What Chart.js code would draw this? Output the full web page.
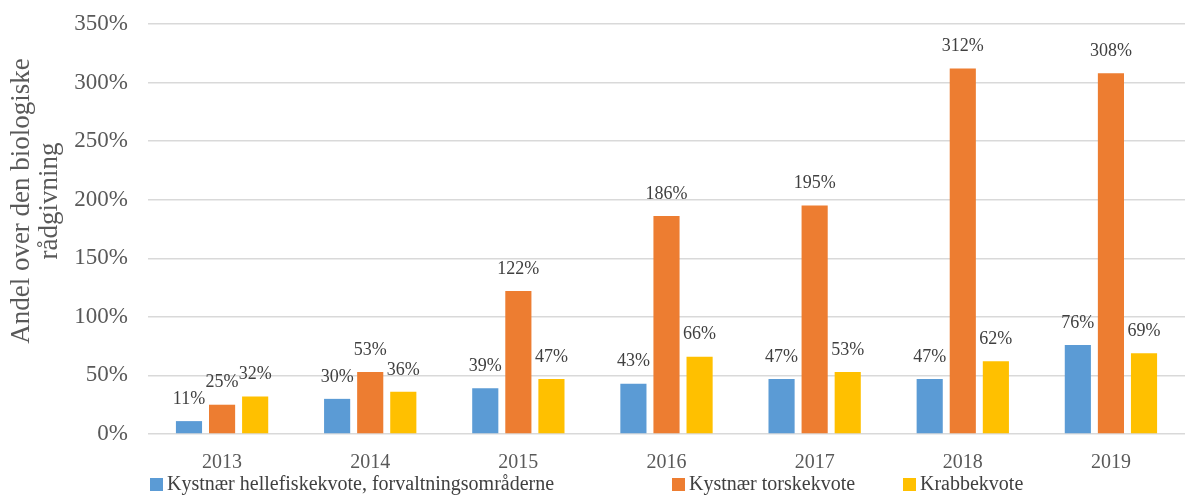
<!DOCTYPE html>
<html>
<head>
<meta charset="utf-8">
<script src="https://cdn.jsdelivr.net/npm/chart.js@4"></script>
<style>
  html, body { margin: 0; padding: 0; overflow: hidden; background: #fff; }
</style>
</head>
<body>
<canvas id="graf" width="1201" height="495"></canvas>
<script>
const aar = ['2013', '2014', '2015', '2016', '2017', '2018', '2019'];
const helle = [11, 30, 39, 43, 47, 47, 76];
const torsk = [25, 53, 122, 186, 195, 312, 308];
const krabbe = [32, 36, 47, 66, 53, 62, 69];
const navne = ['Kystnær hellefiskekvote, forvaltningsområderne', 'Kystnær torskekvote', 'Krabbekvote'];
const farver = ['#5b9bd5', '#ed7d31', '#ffc000'];
const akseTitel = ['Andel over den biologiske', 'rådgivning'];

const serif = 'Liberation Serif, Times New Roman, serif';

// etiketter over søjlerne
const etiketter = {
  id: 'etiketter',
  afterDatasetsDraw(chart) {
    const ctx = chart.ctx;
    ctx.save();
    ctx.font = '18px ' + serif;
    ctx.fillStyle = '#404040';
    ctx.textAlign = 'center';
    ctx.textBaseline = 'middle';
    chart.data.datasets.forEach((ds, i) => {
      chart.getDatasetMeta(i).data.forEach((bar, j) => {
        ctx.fillText(ds.data[j] + '%', bar.x, bar.y - 22);
      });
    });
    ctx.restore();
  }
};

// aksetitel og forklaring tegnes selv
const pynt = {
  id: 'pynt',
  afterDraw(chart) {
    const ctx = chart.ctx;
    const area = chart.chartArea;
    ctx.save();
    // y-aksens titel
    ctx.font = '27px ' + serif;
    ctx.fillStyle = '#595959';
    ctx.textAlign = 'center';
    ctx.textBaseline = 'middle';
    const midt = (area.top + area.bottom) / 2 - 28;
    akseTitel.forEach((linje, i) => {
      ctx.save();
      ctx.translate(22 + i * 28, midt);
      ctx.rotate(-Math.PI / 2);
      ctx.fillText(linje, 0, 0);
      ctx.restore();
    });
    // forklaring
    ctx.font = '20px ' + serif;
    ctx.textAlign = 'left';
    const startX = [150, 672, 903];
    const y = 484;
    navne.forEach((navn, i) => {
      ctx.fillStyle = farver[i];
      ctx.fillRect(startX[i], y - 6, 13, 13);
      ctx.fillStyle = '#404040';
      ctx.fillText(navn, startX[i] + 17, y + 1);
    });
    ctx.restore();
  }
};

new Chart(document.getElementById('graf'), {
  type: 'bar',
  data: {
    labels: aar,
    datasets: navne.map((navn, i) => ({
      label: navn,
      data: [helle, torsk, krabbe][i],
      backgroundColor: farver[i]
    }))
  },
  options: {
    responsive: false,
    animation: false,
    categoryPercentage: 0.67,
    barPercentage: 0.79,
    layout: { padding: { top: 24, right: 16, left: 0, bottom: 11 } },
    plugins: {
      legend: { display: false },
      tooltip: { enabled: false }
    },
    scales: {
      x: {
        grid: { display: false },
        border: { display: false },
        ticks: { font: { family: serif, size: 20 }, color: '#595959', padding: 9 }
      },
      y: {
        min: 0,
        max: 350,
        border: { display: false },
        grid: { color: '#d9d9d9', lineWidth: 1.5, drawTicks: false },
        afterFit: scale => {
          scale.width = 148;
          scale.paddingTop = 0;
          scale.paddingBottom = 0;
        },
        ticks: {
          stepSize: 50,
          padding: 20,
          font: { family: serif, size: 23 },
          color: '#595959',
          callback: v => v + '%'
        }
      }
    }
  },
  plugins: [etiketter, pynt]
});
</script>
</body>
</html>
